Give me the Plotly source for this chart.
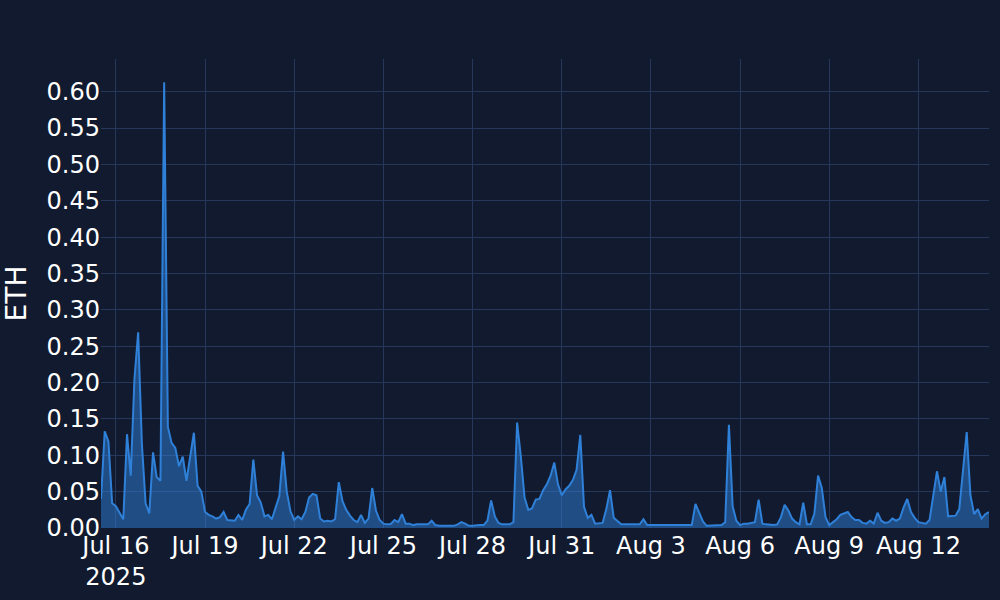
import pandas as pd
import plotly.graph_objects as go

start_time = "2025-07-15 12:00"
step = "3h"
eth_values = [
    0.040, 0.133, 0.119, 0.034,                              # Jul 15 (12h-21h)
    0.030, 0.020, 0.012, 0.129, 0.072, 0.205, 0.269, 0.116,  # Jul 16
    0.034, 0.020, 0.104, 0.070, 0.065, 0.613, 0.139, 0.117,  # Jul 17
    0.110, 0.085, 0.098, 0.065, 0.100, 0.131, 0.058, 0.050,  # Jul 18
    0.022, 0.018, 0.016, 0.013, 0.015, 0.022, 0.011, 0.010,  # Jul 19
    0.010, 0.018, 0.011, 0.025, 0.033, 0.094, 0.045, 0.035,  # Jul 20
    0.016, 0.018, 0.012, 0.028, 0.044, 0.105, 0.050, 0.023,  # Jul 21
    0.011, 0.016, 0.012, 0.022, 0.042, 0.047, 0.045, 0.013,  # Jul 22
    0.009, 0.010, 0.009, 0.012, 0.063, 0.037, 0.025, 0.017,  # Jul 23
    0.011, 0.008, 0.018, 0.007, 0.013, 0.055, 0.024, 0.011,  # Jul 24
    0.006, 0.005, 0.0055, 0.011, 0.008, 0.019, 0.006, 0.006, # Jul 25
    0.004, 0.005, 0.005, 0.005, 0.005, 0.010, 0.004, 0.003,  # Jul 26
    0.003, 0.003, 0.003, 0.003, 0.005, 0.008, 0.006, 0.003,  # Jul 27
    0.003, 0.004, 0.004, 0.004, 0.010, 0.038, 0.016, 0.007,  # Jul 28
    0.005, 0.005, 0.005, 0.008, 0.145, 0.098, 0.042, 0.025,  # Jul 29
    0.027, 0.039, 0.040, 0.052, 0.060, 0.072, 0.090, 0.060,  # Jul 30
    0.045, 0.053, 0.058, 0.066, 0.080, 0.128, 0.029, 0.014,  # Jul 31
    0.018, 0.006, 0.007, 0.007, 0.026, 0.052, 0.014, 0.010,  # Aug 1
    0.005, 0.005, 0.005, 0.005, 0.005, 0.005, 0.012, 0.004,  # Aug 2
    0.004, 0.004, 0.0035, 0.004, 0.0035, 0.0035, 0.0035, 0.004,  # Aug 3
    0.0035, 0.0035, 0.004, 0.004, 0.033, 0.020, 0.009, 0.003,    # Aug 4
    0.003, 0.003, 0.003, 0.004, 0.008, 0.142, 0.030, 0.010,  # Aug 5
    0.004, 0.006, 0.006, 0.007, 0.008, 0.039, 0.006, 0.005,  # Aug 6
    0.004, 0.004, 0.005, 0.015, 0.032, 0.024, 0.013, 0.008,  # Aug 7
    0.005, 0.035, 0.005, 0.005, 0.020, 0.072, 0.055, 0.015,  # Aug 8
    0.004, 0.008, 0.012, 0.018, 0.020, 0.022, 0.015, 0.011,  # Aug 9
    0.011, 0.007, 0.006, 0.010, 0.006, 0.021, 0.010, 0.007,  # Aug 10
    0.008, 0.013, 0.010, 0.013, 0.028, 0.040, 0.022, 0.014,  # Aug 11
    0.008, 0.007, 0.006, 0.011, 0.045, 0.078, 0.050, 0.070,  # Aug 12
    0.016, 0.016, 0.017, 0.026, 0.084, 0.132, 0.045, 0.019,  # Aug 13
    0.026, 0.013, 0.019, 0.022,                              # Aug 14 (0h-9h)
]
times = pd.date_range(start_time, periods=len(eth_values), freq=step)

y_title = "ETH"
x_tick0 = "2025-07-16"
x_dtick_days = 3
y_dtick = 0.05

bg = "#111a2e"
grid = "#26375a"
line_color = "#2f80d8"
fill_color = "rgba(47,128,216,0.5)"
font_family = "DejaVu Sans, Verdana, sans-serif"

fig = go.Figure(
    go.Scatter(
        x=times,
        y=eth_values,
        mode="lines",
        line=dict(color=line_color, width=2),
        fill="tozeroy",
        fillcolor=fill_color,
        hoverinfo="skip",
    )
)

fig.update_layout(
    width=1000,
    height=600,
    paper_bgcolor=bg,
    plot_bgcolor=bg,
    margin=dict(l=101, r=11, t=59, b=72),
    showlegend=False,
    font=dict(family=font_family, color="#ffffff", size=24),
)
fig.update_xaxes(
    tick0=x_tick0,
    dtick=x_dtick_days * 86400000,
    showgrid=True,
    gridcolor=grid,
    gridwidth=1,
    zeroline=False,
    showline=False,
    ticks="",
    ticklabelstandoff=1,
    automargin=False,
    tickfont=dict(size=24, color="#ffffff"),
    range=[times[0], times[-1]],
)
fig.update_yaxes(
    title=dict(text=y_title, font=dict(size=28, color="#ffffff"), standoff=12),
    range=[0, 0.645],
    dtick=y_dtick,
    tickformat=".2f",
    showgrid=True,
    gridcolor=grid,
    gridwidth=1,
    zeroline=False,
    showline=False,
    ticks="",
    automargin=False,
    tickfont=dict(size=24, color="#ffffff"),
)

fig.write_html(
    "out.html",
    config={"displayModeBar": False},
    post_script="document.body.style.margin='0';document.body.style.background='" + bg + "';",
)
